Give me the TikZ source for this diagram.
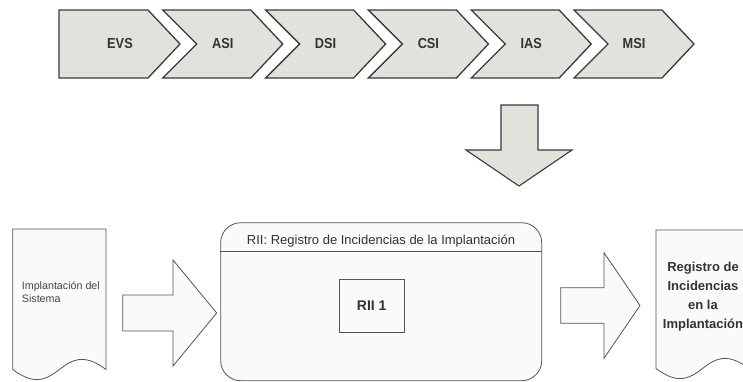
\documentclass[tikz,border=0pt]{standalone}
\usepackage{fontspec}
\setmainfont{Liberation Sans}
\newfontfamily\condensedsans[FakeStretch=0.88]{Liberation Sans}
\definecolor{phasefill}{HTML}{E3E1DC}
\definecolor{phaseline}{HTML}{3A3A3A}
\definecolor{paperfill}{HTML}{FAFAF8}
\definecolor{paperline}{HTML}{555555}
\definecolor{labelgray}{HTML}{333333}
\definecolor{textgray}{HTML}{444444}
\begin{document}
\begin{tikzpicture}[x=1pt,y=-1pt,
  phase/.style={fill=phasefill, draw=phaseline, line width=1.3pt, line join=miter},
  phaselabel/.style={font=\condensedsans\fontsize{14.5}{16}\selectfont\bfseries, text=labelgray, inner sep=0pt},
  paper/.style={fill=paperfill, draw=paperline, line width=0.8pt, line join=miter},
  boldtext/.style={font=\fontsize{13}{18.8}\selectfont\bfseries, text=labelgray, inner sep=0pt, align=center},
  plaintext/.style={font=\fontsize{13}{15}\selectfont, text=labelgray, inner sep=0pt},
  smalltext/.style={font=\fontsize{10.7}{13.3}\selectfont, text=textgray, inner sep=0pt, align=left},
]
\useasboundingbox[fill=white] (0,0) rectangle (743,381);

% --- phase chevrons along the top ---
\draw[phase] (59,10) -- (148,10) -- (180,44) -- (148,78) -- (59,78) -- cycle;
\node[phaselabel] (phase-EVS) at (120,44) {EVS};
\foreach \lbl [count=\i] in {ASI,DSI,CSI,IAS,MSI} {
  \pgfmathsetmacro\tip{180+102.8*\i}
  \draw[phase] (\tip-120,10) -- (\tip-32,10) -- (\tip,44) -- (\tip-32,78)
               -- (\tip-120,78) -- (\tip-86,44) -- cycle;
  \node[phaselabel] (phase-\lbl) at (\tip-60,44) {\lbl};
}

% --- downward block arrow below IAS ---
\draw[phase, line width=1.1pt] (501,105) -- (538,105) -- (538,150) -- (572,150)
      -- (519,186) -- (466,150) -- (501,150) -- cycle;

% --- input document ---
\draw[paper] (12.7,229) -- (106,229) -- (106,369.5)
      .. controls (59.4,334.5) and (59.4,404.5) .. (12.7,369.5) -- cycle;
\node[smalltext, anchor=west] (input-doc) at (21.7,292) {Implantación del\\Sistema};

% --- block arrow into the register ---
\draw[paper] (122.7,295) -- (173,295) -- (173,260) -- (216.7,313)
      -- (173,366) -- (173,331) -- (122.7,331) -- cycle;

% --- register container ---
\node[paper, rounded corners=20pt, minimum width=321pt, minimum height=158pt,
      inner sep=0pt] (rii) at (381.2,301.7) {};
\draw[paperline, line width=0.8pt] (rii.west |- 0,251.7) -- (rii.east |- 0,251.7);
\node[plaintext] (rii-title) at (381,241.2) {RII: Registro de Incidencias de la Implantación};
\node[paper, minimum width=64.7pt, minimum height=53pt, inner sep=0pt,
      font=\fontsize{14}{16}\selectfont\bfseries, text=labelgray] (rii-1) at (371.7,305.8) {RII 1};

% --- block arrow out of the register ---
\draw[paper] (560.7,287.7) -- (604,287.7) -- (604,252.7) -- (640,305.5)
      -- (604,358.3) -- (604,323.3) -- (560.7,323.3) -- cycle;

% --- output document ---
\draw[paper] (656,230) -- (749,230) -- (749,368.5)
      .. controls (702.5,333.5) and (702.5,403.5) .. (656,368.5) -- cycle;
\node[boldtext] (output-doc) at (703,296.5) {Registro de\\Incidencias\\en la\\Implantación};
\end{tikzpicture}
\end{document}
